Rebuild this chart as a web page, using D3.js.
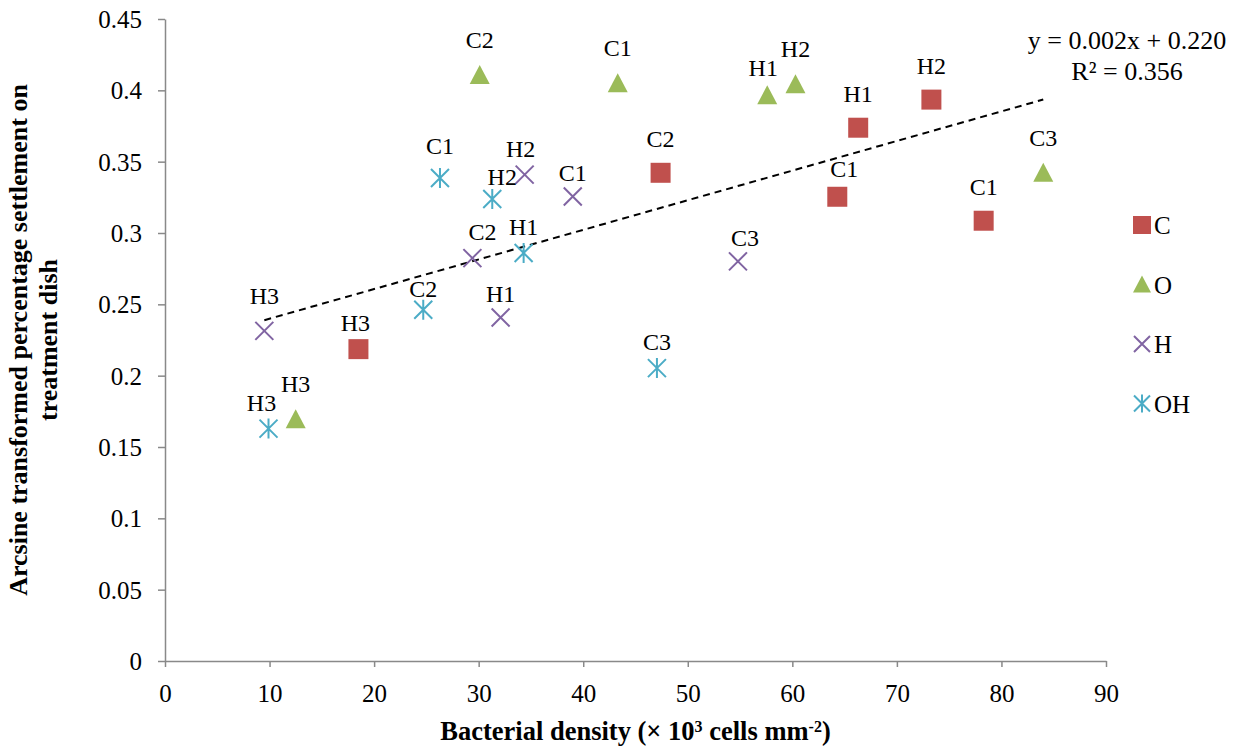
<!DOCTYPE html>
<html>
<head>
<meta charset="utf-8">
<script src="https://cdn.jsdelivr.net/npm/d3@7"></script>
<style>
  body { margin: 0; background: #fff; }
  text { font-family: "Liberation Serif", "Times New Roman", serif; fill: #000; }
  .axis path, .axis line { stroke: #898989; stroke-width: 1.5; }
  .axis text { font-size: 25px; fill: #000; }
</style>
</head>
<body>
<div id="container"></div>
<script>
var width = 1244,
    height = 749,
    margin = { left: 165, top: 19, right: 138, bottom: 88 },
    g_width = width - margin.left - margin.right,
    g_height = height - margin.top - margin.bottom;

// data (bacterial density, arcsine settlement), one array per treatment
var series_names = ['C', 'O', 'H', 'OH'];
var series_colors = ['#C0504D', '#9BBB59', '#8064A2', '#4BACC6'];

var c_labels = ['H3', 'C2', 'C1', 'H1', 'H2', 'C1'];
var c_x = [18.5, 47.4, 64.3, 66.3, 73.3, 78.3];
var c_y = [0.2186, 0.3422, 0.3254, 0.3738, 0.3935, 0.3086];

var o_labels = ['H3', 'C2', 'C1', 'H1', 'H2', 'C3'];
var o_x = [12.5, 30.1, 43.3, 57.6, 60.3, 84.0];
var o_y = [0.1695, 0.4107, 0.405, 0.3965, 0.4042, 0.3423];

var h_labels = ['H3', 'C2', 'H1', 'H2', 'C1', 'C3'];
var h_x = [9.5, 29.4, 32.1, 34.4, 39.0, 54.8];
var h_y = [0.2314, 0.2824, 0.2408, 0.3409, 0.3256, 0.2801];

var oh_labels = ['H3', 'C2', 'C1', 'H2', 'H1', 'C3'];
var oh_x = [9.9, 24.7, 26.3, 31.3, 34.3, 47.05];
var oh_y = [0.1629, 0.2462, 0.3385, 0.3238, 0.286, 0.2053];

var x_ticks = [0, 10, 20, 30, 40, 50, 60, 70, 80, 90];
var y_ticks = [0, 0.05, 0.1, 0.15, 0.2, 0.25, 0.3, 0.35, 0.4, 0.45];

var eq_text = 'y = 0.002x + 0.220';
var r2_text = 'R\u00B2 = 0.356';

// label placement: distance above marker per series, plus a few hand nudges [dx, extra lift]
var label_gap = { C: 26, O: 27, H: 15, OH: 18 };
var label_nudge = {
  'C-0': [-3, -8], 'C-2': [7, -6],
  'O-3': [-4, -8],
  'H-0': [0, 12], 'H-1': [10, 3], 'H-3': [-4, 3], 'H-5': [7, 0],
  'OH-0': [-7, 0], 'OH-1': [0, -5], 'OH-2': [0, 6], 'OH-3': [10, -4]
};

var series = [
  { name: 'C', labels: c_labels, x: c_x, y: c_y },
  { name: 'O', labels: o_labels, x: o_x, y: o_y },
  { name: 'H', labels: h_labels, x: h_x, y: h_y },
  { name: 'OH', labels: oh_labels, x: oh_x, y: oh_y }
];

var svg = d3.select('#container')
    .append('svg')
    .attr('width', width)
    .attr('height', height);
svg.append('rect').attr('width', width).attr('height', height).attr('fill', '#fff');

var g = svg.append('g')
    .attr('transform', 'translate(' + margin.left + ',' + margin.top + ')');

var scale_x = d3.scaleLinear().domain([0, 90]).range([0, g_width]);
var scale_y = d3.scaleLinear().domain([0, 0.45]).range([g_height, 0]);
var color = d3.scaleOrdinal().domain(series_names).range(series_colors);

// axes
var x_axis = d3.axisBottom(scale_x).tickValues(x_ticks).tickSize(6).tickSizeOuter(0)
    .tickFormat(d3.format('d'));
var y_axis = d3.axisLeft(scale_y).tickValues(y_ticks).tickSize(7).tickSizeOuter(0)
    .tickFormat(function (d) { return +d.toFixed(2) + ''; });

g.append('g')
    .attr('class', 'axis')
    .attr('transform', 'translate(0,' + g_height + ')')
    .call(x_axis)
    .attr('font-family', '"Liberation Serif", serif')
    .attr('font-size', 25)
    .selectAll('text').attr('dy', null).attr('y', 41);
g.append('g')
    .attr('class', 'axis')
    .call(y_axis)
    .attr('font-family', '"Liberation Serif", serif')
    .attr('font-size', 25)
    .selectAll('text').attr('x', -23).attr('dy', '0.34em');

// marker shapes
function marker_path(name, s) {
  var p = d3.path();
  if (name === 'C') {
    p.rect(-s / 2, -s / 2, s, s);
  } else if (name === 'O') {
    p.moveTo(0, -s / 2); p.lineTo(s / 2, s / 2 - 1); p.lineTo(-s / 2, s / 2 - 1); p.closePath();
  } else if (name === 'H') {
    var a = s / 2 - 1;
    p.moveTo(-a, -a); p.lineTo(a, a); p.moveTo(a, -a); p.lineTo(-a, a);
  } else {
    var b = s / 2 - 1;
    p.moveTo(-b, -b); p.lineTo(b, b); p.moveTo(b, -b); p.lineTo(-b, b);
    p.moveTo(0, -b - 1); p.lineTo(0, b + 1);
  }
  return p.toString();
}
function draw_marker(sel, name, s) {
  var filled = name === 'C' || name === 'O';
  sel.append('path')
      .attr('d', marker_path(name, s))
      .attr('fill', filled ? color(name) : 'none')
      .attr('stroke', filled ? 'none' : color(name))
      .attr('stroke-width', 2);
}

// trend line (least squares over all points)
var all_pts = [];
series.forEach(function (s) {
  s.x.forEach(function (v, i) { all_pts.push([v, s.y[i]]); });
});
var mx = d3.mean(all_pts, function (d) { return d[0]; }),
    my = d3.mean(all_pts, function (d) { return d[1]; });
var sxy = d3.sum(all_pts, function (d) { return (d[0] - mx) * (d[1] - my); }),
    sxx = d3.sum(all_pts, function (d) { return (d[0] - mx) * (d[0] - mx); });
var slope = sxy / sxx, intercept = my - slope * mx;
var x_ext = d3.extent(all_pts, function (d) { return d[0]; });
var line_generator = d3.line()
    .x(function (d) { return scale_x(d); })
    .y(function (d) { return scale_y(intercept + slope * d); });
g.append('path')
    .attr('d', line_generator(x_ext))
    .attr('fill', 'none')
    .attr('stroke', '#000')
    .attr('stroke-width', 2)
    .attr('stroke-dasharray', '7,5');

// points and labels
series.forEach(function (s) {
  var grp = g.append('g');
  s.x.forEach(function (v, i) {
    var px = scale_x(v), py = scale_y(s.y[i]);
    var m = grp.append('g').attr('transform', 'translate(' + px + ',' + py + ')');
    draw_marker(m, s.name, 20);
    var n = label_nudge[s.name + '-' + i] || [0, 0];
    grp.append('text')
        .attr('x', px + n[0])
        .attr('y', py - label_gap[s.name] - n[1])
        .attr('text-anchor', 'middle')
        .style('font-size', '24px')
        .text(s.labels[i]);
  });
});

// equation
var eq = g.append('text')
    .attr('text-anchor', 'middle')
    .style('font-size', '26px');
eq.append('tspan').attr('x', 962).attr('y', 30).text(eq_text);
eq.append('tspan').attr('x', 962).attr('y', 61).text(r2_text);

// legend
var legend = svg.append('g').attr('transform', 'translate(1142,225)');
series_names.forEach(function (name, i) {
  var row = legend.append('g').attr('transform', 'translate(0,' + (i * 59.5) + ')');
  draw_marker(row, name, 18);
  row.append('text')
      .attr('x', 12)
      .attr('y', 9)
      .style('font-size', '25px')
      .text(name);
});

// axis titles
svg.append('text')
    .attr('x', margin.left + g_width / 2)
    .attr('y', 740)
    .attr('text-anchor', 'middle')
    .style('font-size', '26.5px')
    .style('font-weight', 'bold')
    .html('Bacterial density (\u00D7 10<tspan baseline-shift="super" font-size="16px">3</tspan> cells mm<tspan baseline-shift="super" font-size="16px">-2</tspan>)');

var y_title = svg.append('text')
    .attr('transform', 'translate(27,' + (margin.top + g_height / 2) + ') rotate(-90)')
    .attr('text-anchor', 'middle')
    .style('font-size', '26px')
    .style('font-weight', 'bold');
y_title.append('tspan').attr('x', 0).attr('y', 0).text('Arcsine transformed percentage settlement on');
y_title.append('tspan').attr('x', 0).attr('y', 30).text('treatment dish');
</script>
</body>
</html>
